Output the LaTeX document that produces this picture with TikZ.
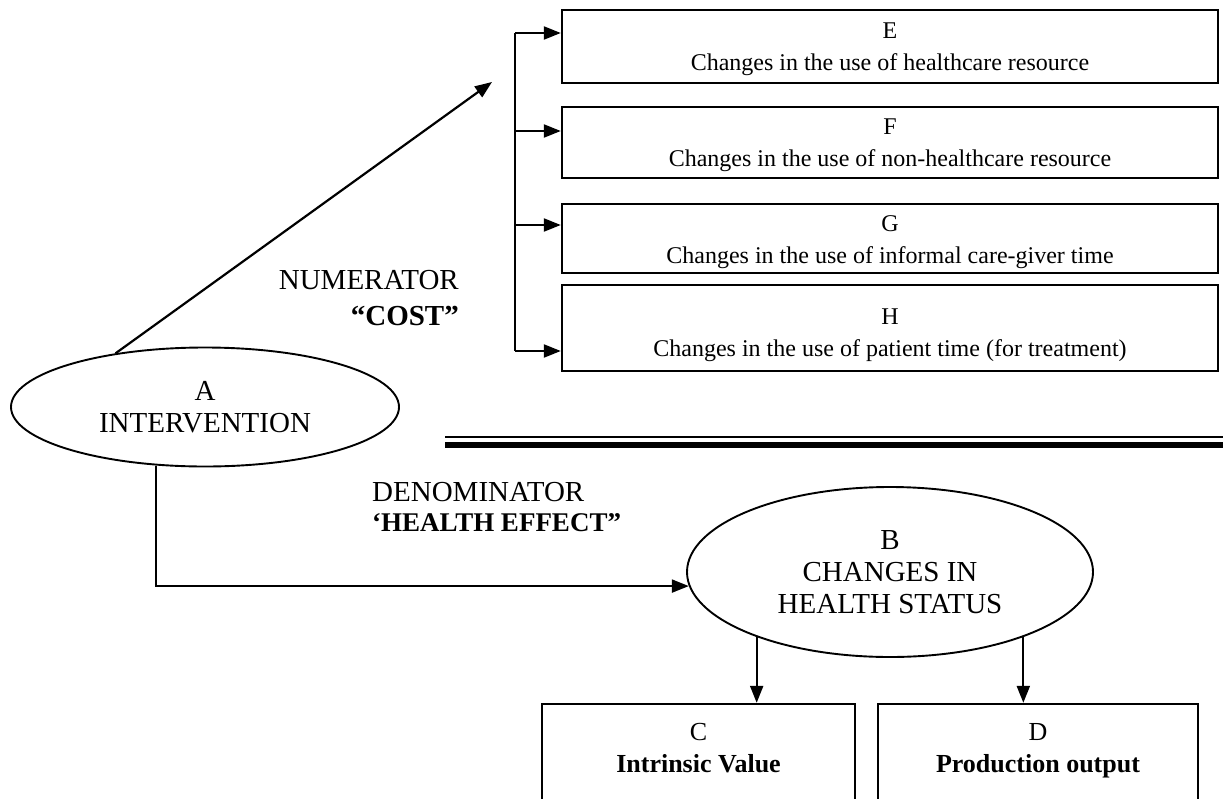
\documentclass[tikz,border=0pt]{standalone}
\usepackage{fontspec}
\setmainfont{Liberation Serif}
\usetikzlibrary{arrows.meta,shapes.geometric}
\begin{document}
\begin{tikzpicture}[x=1pt,y=-1pt,
  box/.style={draw, line width=2.4pt, inner sep=0pt},
  boxtxt/.style={inner sep=0pt, align=center, font=\fontsize{24}{32}\selectfont},
  oval/.style={draw, ellipse, line width=1.9pt, inner sep=0pt, align=center, font=\fontsize{29}{32}\selectfont},
  arr/.style={line width=2.2pt, -{Triangle[length=17pt,width=13pt]}},
  lbl/.style={inner sep=0pt, font=\fontsize{29}{36}\selectfont},
  boldtxt/.style={inner sep=0pt, align=center, font=\fontsize{26}{32}\selectfont}
]
\clip (0,0) rectangle (1223,798);
\fill[white] (0,0) rectangle (1223,798);

% cost boxes
\node[box, minimum width=656, minimum height=73] (E) at (890,46.5) {};
\node[box, minimum width=656, minimum height=71] (F) at (890,142.5) {};
\node[box, minimum width=656, minimum height=69] (G) at (890,238.5) {};
\node[box, minimum width=656, minimum height=86] (H) at (890,328) {};
\node[boxtxt] (Et) at ([yshift=-5pt]E.center) {E\\Changes in the use of healthcare resource\strut};
\node[boxtxt] (Ft) at ([yshift=-5pt]F.center) {F\\Changes in the use of non-healthcare resource\strut};
\node[boxtxt] (Gt) at ([yshift=-6pt]G.center) {G\\Changes in the use of informal care-giver time\strut};
\node[boxtxt] (Ht) at ([yshift=-9pt]H.center) {H\\Changes in the use of patient time (for treatment)\strut};

% ellipses
\node[oval, minimum width=388, minimum height=119] (A) at (205,407) {A\\INTERVENTION};
\node[oval, minimum width=406, minimum height=170] (B) at (890,572) {B\\CHANGES IN\\HEALTH STATUS};

% result boxes
\node[box, minimum width=313, minimum height=166] (C) at (698.5,787) {};
\node[box, minimum width=320, minimum height=166] (D) at (1038,787) {};
\node[boldtxt] (Ct) at (698.5,753) {C\\\textbf{Intrinsic Value}\strut};
\node[boldtxt] (Dt) at (1038,753) {D\\\textbf{Production output}\strut};

% labels
\node[lbl, anchor=east, align=right] (num) at (459,298) {NUMERATOR\\\textbf{“COST”}};
\node[lbl, anchor=west, align=left, font=\fontsize{29}{30}\selectfont] (den) at (372,507) {DENOMINATOR\\\fontsize{27}{30}\selectfont\textbf{‘HEALTH EFFECT”}};

% separator
\draw[line width=1.8pt] (445,437) -- (1223,437);
\draw[line width=6pt] (445,444.5) -- (1223,444.5);

% cost connectors
\coordinate (dtip) at (492,82);
\draw[arr] (A.149) -- (dtip);
\coordinate (tE) at (515,33);
\coordinate (tF) at (515,131);
\coordinate (tG) at (515,225);
\coordinate (tH) at (515,351);
\draw[line width=2.2pt] (tE) -- (tH);
\draw[arr] (tE) -- (tE -| E.west);
\draw[arr] (tF) -- (tF -| F.west);
\draw[arr] (tG) -- (tG -| G.west);
\draw[arr] (tH) -- (tH -| H.west);

% effect connectors
\draw[arr] (A.230) |- (B.184);
\draw[arr] (B.206.7) -- (B.206.7 |- C.north);
\draw[arr] (B.334.8) -- (B.334.8 |- D.north);
\end{tikzpicture}
\end{document}
